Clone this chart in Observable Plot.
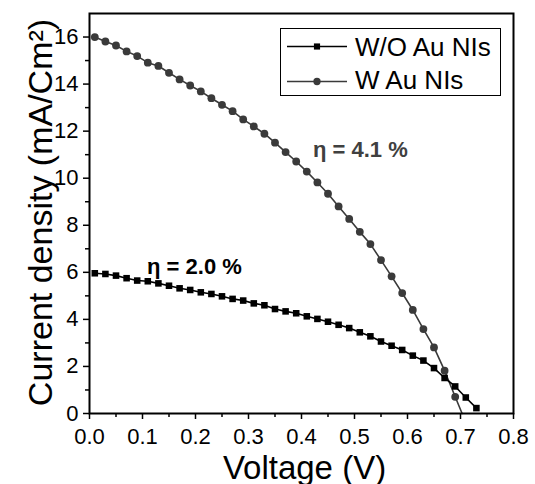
<!DOCTYPE html>
<html>
<head>
<meta charset="utf-8">
<script src="https://cdn.jsdelivr.net/npm/d3@7"></script>
<script src="https://cdn.jsdelivr.net/npm/@observablehq/plot@0.6"></script>
<style>
  html, body { margin: 0; padding: 0; background: #fff; }
  #chart { width: 535px; height: 484px; }
</style>
</head>
<body>
<div id="chart"></div>
<script>
// ---- data ----
const voltWO = [0.01,0.03,0.05,0.07,0.09,0.11,0.13,0.15,0.17,0.19,0.21,0.23,0.25,0.27,0.29,0.31,0.33,0.35,0.37,0.39,0.41,0.43,0.45,0.47,0.49,0.51,0.53,0.55,0.57,0.59,0.61,0.63,0.65,0.67,0.69,0.71,0.73];
const currWO = [5.96,5.93,5.86,5.75,5.65,5.62,5.53,5.43,5.32,5.25,5.15,5.08,4.98,4.87,4.80,4.68,4.60,4.44,4.34,4.26,4.13,4.02,3.90,3.77,3.63,3.45,3.28,3.06,2.88,2.70,2.46,2.25,1.93,1.51,1.15,0.68,0.23];
const voltW = [0.01,0.03,0.05,0.07,0.09,0.11,0.13,0.15,0.17,0.19,0.21,0.23,0.25,0.27,0.29,0.31,0.33,0.35,0.37,0.39,0.41,0.43,0.45,0.47,0.49,0.51,0.53,0.55,0.57,0.59,0.61,0.63,0.65,0.67,0.69];
const currW = [16.0,15.81,15.64,15.39,15.19,14.91,14.77,14.48,14.2,13.94,13.69,13.4,13.12,12.85,12.5,12.2,11.89,11.51,11.11,10.71,10.28,9.82,9.34,8.80,8.27,7.72,7.2,6.52,5.83,5.12,4.40,3.59,2.81,1.82,0.71];
// line of the W series continues to the open-circuit voltage
const endW = {v: 0.703, j: 0};

const seriesNames = ["W/O Au NIs", "W Au NIs"];
const annoText = ["\u03b7 = 2.0 %", "\u03b7 = 4.1 %"];
const annoV = [0.198, 0.511];
const annoJ = [6.22, 11.22];

const xMajor = [0, 0.1, 0.2, 0.3, 0.4, 0.5, 0.6, 0.7, 0.8];
const xMinor = [0.05, 0.15, 0.25, 0.35, 0.45, 0.55, 0.65, 0.75];
const yMajor = [0, 2, 4, 6, 8, 10, 12, 14, 16];
const yMinor = [1, 3, 5, 7, 9, 11, 13, 15];
const xLabel = "Voltage (V)";
const yLabel = "Current density (mA/Cm\u00b2)";

// ---- build tables ----
const wo = voltWO.map((v, i) => ({v, j: currWO[i]}));
const w = voltW.map((v, i) => ({v, j: currW[i]}));
const wLine = [...w, endW];
const annos = annoText.map((t, i) => ({t, v: annoV[i], j: annoJ[i]}));

const colWO = "#000000";
const colW = "#3a3a3a";
const font = "'Liberation Sans', Arial, sans-serif";

const svg = Plot.plot({
  width: 535,
  height: 484,
  marginLeft: 89,
  marginRight: 22,
  marginTop: 13,
  marginBottom: 71,
  style: {fontFamily: font, fontSize: "22px", background: "#fff", color: "#000"},
  x: {domain: [0, 0.8]},
  y: {domain: [0, 17]},
  marks: [
    Plot.axisX(xMajor, {tickSize: 6, strokeWidth: 1.5, tickFormat: () => "", label: null}),
    Plot.axisX(xMinor, {tickSize: 4, strokeWidth: 1.5, tickFormat: () => "", label: null}),
    Plot.axisY(yMajor, {tickSize: 6, strokeWidth: 1.5, tickFormat: () => "", label: null}),
    Plot.axisY(yMinor, {tickSize: 4, strokeWidth: 1.5, tickFormat: () => "", label: null}),
    // tick labels
    Plot.text(xMajor, {x: d => d, text: d => d.toFixed(1), frameAnchor: "bottom", lineAnchor: "top", textAnchor: "middle", dy: 15, fontSize: 22}),
    Plot.text(yMajor, {y: d => d, text: d => String(d), frameAnchor: "left", lineAnchor: "middle", textAnchor: "end", dx: -11, fontSize: 22}),
    Plot.line(wLine, {x: "v", y: "j", stroke: colW, strokeWidth: 1.6}),
    Plot.line(wo, {x: "v", y: "j", stroke: colWO, strokeWidth: 1.6}),
    Plot.dot(w, {x: "v", y: "j", r: 3.9, fill: colW, stroke: "none", symbol: "circle"}),
    Plot.dot(wo, {x: "v", y: "j", r: 3.7, fill: colWO, stroke: "none", symbol: "square"}),
    Plot.text(annos, {x: "v", y: "j", text: "t", fontWeight: "bold", fontSize: 22, lineAnchor: "middle", textAnchor: "middle",
      fill: (d, i) => i === 0 ? "#000" : "#404040"}),
    Plot.text([xLabel], {text: d => d, frameAnchor: "bottom", textAnchor: "middle", lineAnchor: "bottom", dy: 65, dx: 3, fontSize: 33}),
    Plot.text([yLabel], {text: d => d, frameAnchor: "left", textAnchor: "middle", lineAnchor: "bottom", rotate: -90, dx: -38, dy: -1, fontSize: 34}),
    Plot.frame({stroke: "#000", strokeWidth: 2})
  ]
});

// ---- legend box ----
const g = d3.select(svg).append("g").attr("font-family", font).attr("text-anchor", "start");
g.append("rect").attr("x", 280.5).attr("y", 28.5).attr("width", 220).attr("height", 67)
  .attr("fill", "#fff").attr("stroke", "#000").attr("stroke-width", 1);
const legendRows = [
  {name: seriesNames[0], color: colWO, sym: d3.symbolSquare, size: 38, cy: 46.5, by: 55.5},
  {name: seriesNames[1], color: colW, sym: d3.symbolCircle, size: 42, cy: 81.5, by: 88.5}
];
legendRows.forEach(r => {
  g.append("line").attr("x1", 287).attr("x2", 347).attr("y1", r.cy).attr("y2", r.cy)
    .attr("stroke", r.color).attr("stroke-width", 1.6);
  g.append("path").attr("d", d3.symbol(r.sym, r.size)()).attr("transform", `translate(317,${r.cy})`)
    .attr("fill", r.color);
  g.append("text").attr("x", 355).attr("y", r.by).attr("font-size", 26).attr("fill", "#000")
    .attr("text-anchor", "start").text(r.name);
});

document.getElementById("chart").appendChild(svg);
</script>
</body>
</html>
